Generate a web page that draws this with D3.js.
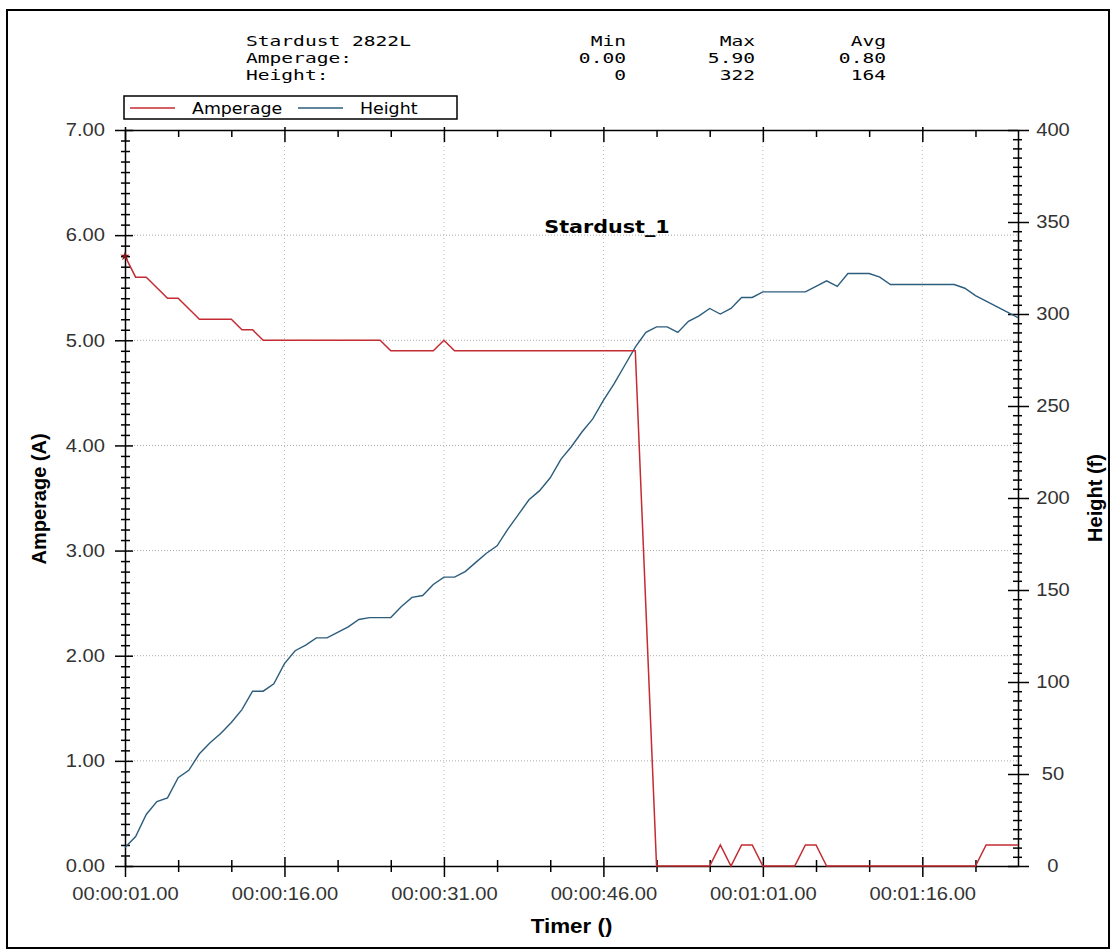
<!DOCTYPE html>
<html>
<head>
  <title>Stardust 2822L</title>
  <style type="text/css">
    body { margin: 0; background: #fff; }
    svg { display: block; }
  </style>
</head>
<body>
<div id="chart"></div>
<script src="https://d3js.org/d3.v7.min.js"></script>
<script type="text/javascript">
// seconds on the timer
var secs = [1,2,3,4,5,6,7,8,9,10,11,12,13,14,15,16,17,18,19,20,
  21,22,23,24,25,26,27,28,29,30,31,32,33,34,35,36,37,38,39,40,
  41,42,43,44,45,46,47,48,49,50,51,52,53,54,55,56,57,58,59,60,
  61,62,63,64,65,66,67,68,69,70,71,72,73,74,75,76,77,78,79,80,
  81,82,83,84,85];
var amperage = [5.8,5.6,5.6,5.5,5.4,5.4,5.3,5.2,5.2,5.2,5.2,5.1,5.1,
  5.0,5.0,5.0,5.0,5.0,5.0,5.0,5.0,5.0,5.0,5.0,5.0,
  4.9,4.9,4.9,4.9,4.9,5.0,
  4.9,4.9,4.9,4.9,4.9,4.9,4.9,4.9,4.9,4.9,4.9,4.9,4.9,4.9,4.9,4.9,4.9,4.9,
  2.45,0,0,0,0,0,0,
  0.2,0,0.2,0.2,0,0,0,0,0.2,0.2,
  0,0,0,0,0,0,0,0,0,0,0,0,0,0,0,
  0.2,0.2,0.2,0.2];
var heightFt = [10,16,28,35,37,48,52,61,67,72,
  78,85,95,95,99,110,117,120,124,124,
  127,130,134,135,135,135,141,146,147,153,
  157,157,160,165,170,174,183,191,199,204,
  211,221,228,236,243,253,262,272,282,290,
  293,293,290,296,299,303,300,303,309,309,
  312,312,312,312,312,315,318,315,322,322,
  322,320,316,316,316,316,316,316,316,314,
  310,307,304,301,298];

var xMajor = [1,16,31,46,61,76];
var xMajorLabels = ["00:00:01.00","00:00:16.00","00:00:31.00","00:00:46.00","00:01:01.00","00:01:16.00"];
var xMinor = [6,11,21,26,36,41,51,56,66,71,81];
var ampMajor = [0,1,2,3,4,5,6,7];
var ampLabels = ["0.00","1.00","2.00","3.00","4.00","5.00","6.00","7.00"];
var heightMajor = [0,50,100,150,200,250,300,350,400];

var statNames = ["Stardust 2822L","Amperage:","Height:"];
var statCols = ["Min","Max","Avg"];
var ampStats = ["0.00","5.90","0.80"];
var heightStats = ["0","322","164"];

var W = 1116, H = 952;
var pL = 125, pR = 1018, pT = 130, pB = 866;
var red = "#c42b32", blue = "#2c5d7c";
var sx = 1.12;

var x = d3.scaleLinear().domain([1, 85]).range([pL, pR]);
var yA = d3.scaleLinear().domain([0, 7]).range([pB, pT]);
var yH = d3.scaleLinear().domain([0, 400]).range([pB, pT]);

var svg = d3.select("#chart")
  .append("svg")
  .attr("width", W)
  .attr("height", H);

svg.append("rect")
  .attr("x", 7).attr("y", 10)
  .attr("width", 1102).attr("height", 938)
  .attr("fill", "#fff")
  .attr("stroke", "#000")
  .attr("stroke-width", 2);

// grid
svg.append("g")
  .selectAll("line")
  .data(ampMajor.slice(1, 7))
  .join("line")
  .attr("x1", pL).attr("x2", pR)
  .attr("y1", d => yA(d)).attr("y2", d => yA(d))
  .attr("stroke", "#aaa")
  .attr("stroke-dasharray", "1,2");
svg.append("g")
  .selectAll("line")
  .data(xMajor.slice(1))
  .join("line")
  .attr("x1", d => x(d)).attr("x2", d => x(d))
  .attr("y1", pT).attr("y2", pB)
  .attr("stroke", "#bbb")
  .attr("stroke-dasharray", "1,3");

function styleAxis(g) {
  g.attr("color", "#000")
    .attr("font-family", "'Liberation Sans', Arial, sans-serif")
    .attr("font-size", 18);
  g.select(".domain").attr("stroke-width", 1.5);
  g.selectAll(".tick line").attr("stroke-width", 1.5);
  g.selectAll(".tick text").attr("fill", "#333").attr("transform", `scale(${sx},1)`);
}

// minor ticks
var ampMinor = yA.ticks(70).filter(d => Math.abs(d - Math.round(d)) > 0.01);
var hMinor = yH.ticks(80).filter(d => d % 50 !== 0);

svg.append("g")
  .attr("transform", `translate(${pL},0)`)
  .call(d3.axisLeft(yA).tickValues(ampMinor).tickFormat("").tickSizeOuter(0))
  .call(g => g.select(".domain").remove())
  .call(g => g.selectAll(".tick line").attr("x1", 5).attr("x2", -4).attr("stroke-width", 1.5));
svg.append("g")
  .attr("transform", `translate(${pR},0)`)
  .call(d3.axisRight(yH).tickValues(hMinor).tickFormat("").tickSizeOuter(0))
  .call(g => g.select(".domain").remove())
  .call(g => g.selectAll(".tick line").attr("x1", -5).attr("x2", 4).attr("stroke-width", 1.5));
svg.append("g")
  .attr("transform", `translate(0,${pB})`)
  .call(d3.axisBottom(x).tickValues(xMinor).tickFormat("").tickSizeOuter(0))
  .call(g => g.select(".domain").remove())
  .call(g => g.selectAll(".tick line").attr("y1", -6).attr("y2", 6).attr("stroke-width", 1.5));
svg.append("g")
  .attr("transform", `translate(0,${pT})`)
  .call(d3.axisTop(x).tickValues(xMinor).tickFormat("").tickSizeOuter(0))
  .call(g => g.select(".domain").remove())
  .call(g => g.selectAll(".tick line").attr("y1", 0).attr("y2", 7).attr("stroke-width", 1.5));

// major axes
svg.append("g")
  .attr("transform", `translate(${pL},0)`)
  .call(d3.axisLeft(yA).tickValues(ampMajor).tickFormat((d, i) => ampLabels[i])
    .tickSize(0).tickPadding(20 / sx).tickSizeOuter(0))
  .call(styleAxis)
  .call(g => g.selectAll(".tick line").attr("x1", -10).attr("x2", 8));

svg.append("g")
  .attr("transform", `translate(${pR},0)`)
  .call(d3.axisRight(yH).tickValues(heightMajor)
    .tickSize(0).tickPadding(35 / sx).tickSizeOuter(0))
  .call(styleAxis)
  .call(g => g.selectAll(".tick line").attr("x1", -10).attr("x2", 11))
  .call(g => g.selectAll(".tick text").attr("text-anchor", "middle"));

svg.append("g")
  .attr("transform", `translate(0,${pB})`)
  .call(d3.axisBottom(x).tickValues(xMajor).tickFormat((d, i) => xMajorLabels[i])
    .tickSize(0).tickPadding(21).tickSizeOuter(0))
  .call(styleAxis)
  .call(g => g.selectAll(".tick line").attr("y1", -9).attr("y2", 11));

svg.append("g")
  .attr("transform", `translate(0,${pT})`)
  .call(d3.axisTop(x).tickValues(xMajor).tickFormat("").tickSize(0).tickSizeOuter(0))
  .call(styleAxis)
  .call(g => g.selectAll(".tick line").attr("y1", -3).attr("y2", 12));

// series
var ampLine = d3.line()
  .x((d, i) => x(secs[i]))
  .y(d => yA(d));
var hLine = d3.line()
  .x((d, i) => x(secs[i]))
  .y(d => yH(d));

svg.append("path")
  .datum(heightFt)
  .attr("d", hLine)
  .attr("fill", "none")
  .attr("stroke", blue)
  .attr("stroke-width", 1.4);

svg.append("path")
  .datum(amperage)
  .attr("d", ampLine)
  .attr("fill", "none")
  .attr("stroke", red)
  .attr("stroke-width", 1.5);

svg.append("path")
  .attr("d", d3.symbol(d3.symbolStar, 28)())
  .attr("transform", `translate(${x(secs[0])},${yA(amperage[0])})`)
  .attr("fill", "#7a1418");

// axis titles
svg.append("text")
  .attr("transform", `translate(46,499) rotate(-90)`)
  .attr("text-anchor", "middle")
  .style("font-family", "'Liberation Sans', Arial, sans-serif")
  .style("font-weight", "bold")
  .style("font-size", "20px")
  .text("Amperage (A)");

svg.append("text")
  .attr("transform", `translate(1102,498) rotate(-90)`)
  .attr("text-anchor", "middle")
  .style("font-family", "'Liberation Sans', Arial, sans-serif")
  .style("font-weight", "bold")
  .style("font-size", "20px")
  .text("Height (f)");

svg.append("text")
  .attr("transform", `translate(${(pL + pR) / 2},933) scale(${sx},1)`)
  .attr("text-anchor", "middle")
  .style("font-family", "'Liberation Sans', Arial, sans-serif")
  .style("font-weight", "bold")
  .style("font-size", "20px")
  .text("Timer ()");

svg.append("text")
  .attr("transform", `translate(607,233) scale(1.15,1)`)
  .attr("text-anchor", "middle")
  .style("font-family", "'Comic Sans MS', 'DejaVu Sans', sans-serif")
  .style("font-weight", "bold")
  .style("font-size", "18px")
  .text("Stardust_1");

// header stats
var mono = "'DejaVu Sans Mono', 'Liberation Mono', monospace";
var rowY = [46, 63, 80];
var colX = [626, 755, 886];

svg.append("g")
  .selectAll("text")
  .data(statNames)
  .join("text")
  .attr("transform", (d, i) => `translate(246,${rowY[i]}) scale(1.35,1)`)
  .style("font-family", mono)
  .style("font-size", "14.5px")
  .text(d => d);

[statCols, ampStats, heightStats].forEach(function(row, r) {
  svg.append("g")
    .selectAll("text")
    .data(row)
    .join("text")
    .attr("transform", (d, i) => `translate(${colX[i]},${rowY[r]}) scale(1.35,1)`)
    .attr("text-anchor", "end")
    .style("font-family", mono)
    .style("font-size", "14.5px")
    .text(d => d);
});

// legend
var leg = svg.append("g");
leg.append("rect")
  .attr("x", 124).attr("y", 96)
  .attr("width", 333).attr("height", 23)
  .attr("fill", "#fff")
  .attr("stroke", "#000")
  .attr("stroke-width", 1.5);
var legItems = [
  {name: "Amperage", color: red, x0: 130},
  {name: "Height", color: blue, x0: 298}
];
legItems.forEach(function(d) {
  leg.append("line")
    .attr("x1", d.x0).attr("x2", d.x0 + 45)
    .attr("y1", 108).attr("y2", 108)
    .attr("stroke", d.color)
    .attr("stroke-width", 1.5);
  leg.append("text")
    .attr("transform", `translate(${d.x0 + 62},114) scale(1.16,1)`)
    .style("font-family", "'DejaVu Sans', sans-serif")
    .style("font-size", "15px")
    .text(d.name);
});
</script>
</body>
</html>
